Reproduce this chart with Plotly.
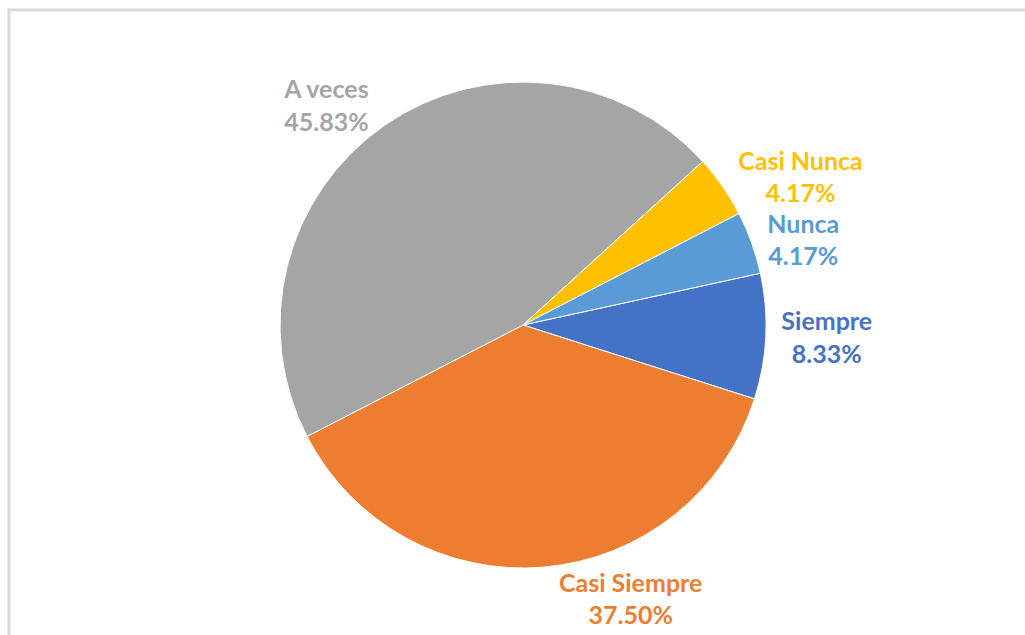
import plotly.graph_objects as go

categories = ["Siempre", "Casi Siempre", "A veces", "Casi Nunca", "Nunca"]
counts = [2, 9, 11, 1, 1]
colors = ["#4472C4", "#ED7D31", "#A5A5A5", "#FFC000", "#5B9BD5"]

W, H = 1025, 635
cx, cy, r = 523, 325, 243

fig = go.Figure(go.Pie(
    labels=categories,
    values=counts,
    sort=False,
    direction="clockwise",
    rotation=77.7,
    marker=dict(colors=colors, line=dict(color="white", width=1)),
    textposition="outside",
    texttemplate="<b>%{label}</b><br><b>%{percent:.2%}</b>",
    outsidetextfont=dict(color=colors, size=25, family="Lato"),
    showlegend=False,
    hoverinfo="label+percent",
    domain=dict(x=[(cx - r) / W, (cx + r) / W], y=[(H - cy - r) / H, (H - cy + r) / H]),
))

fig.update_layout(
    width=W, height=H,
    margin=dict(l=0, r=0, t=0, b=0),
    paper_bgcolor="white",
    plot_bgcolor="white",
    shapes=[dict(type="rect", xref="paper", yref="paper",
                 x0=9 / W, x1=1.02, y0=-0.02, y1=(H - 10) / H,
                 line=dict(color="#D9D9D9", width=3), fillcolor="rgba(0,0,0,0)", layer="below")],
)

fig.write_html("out.html")
